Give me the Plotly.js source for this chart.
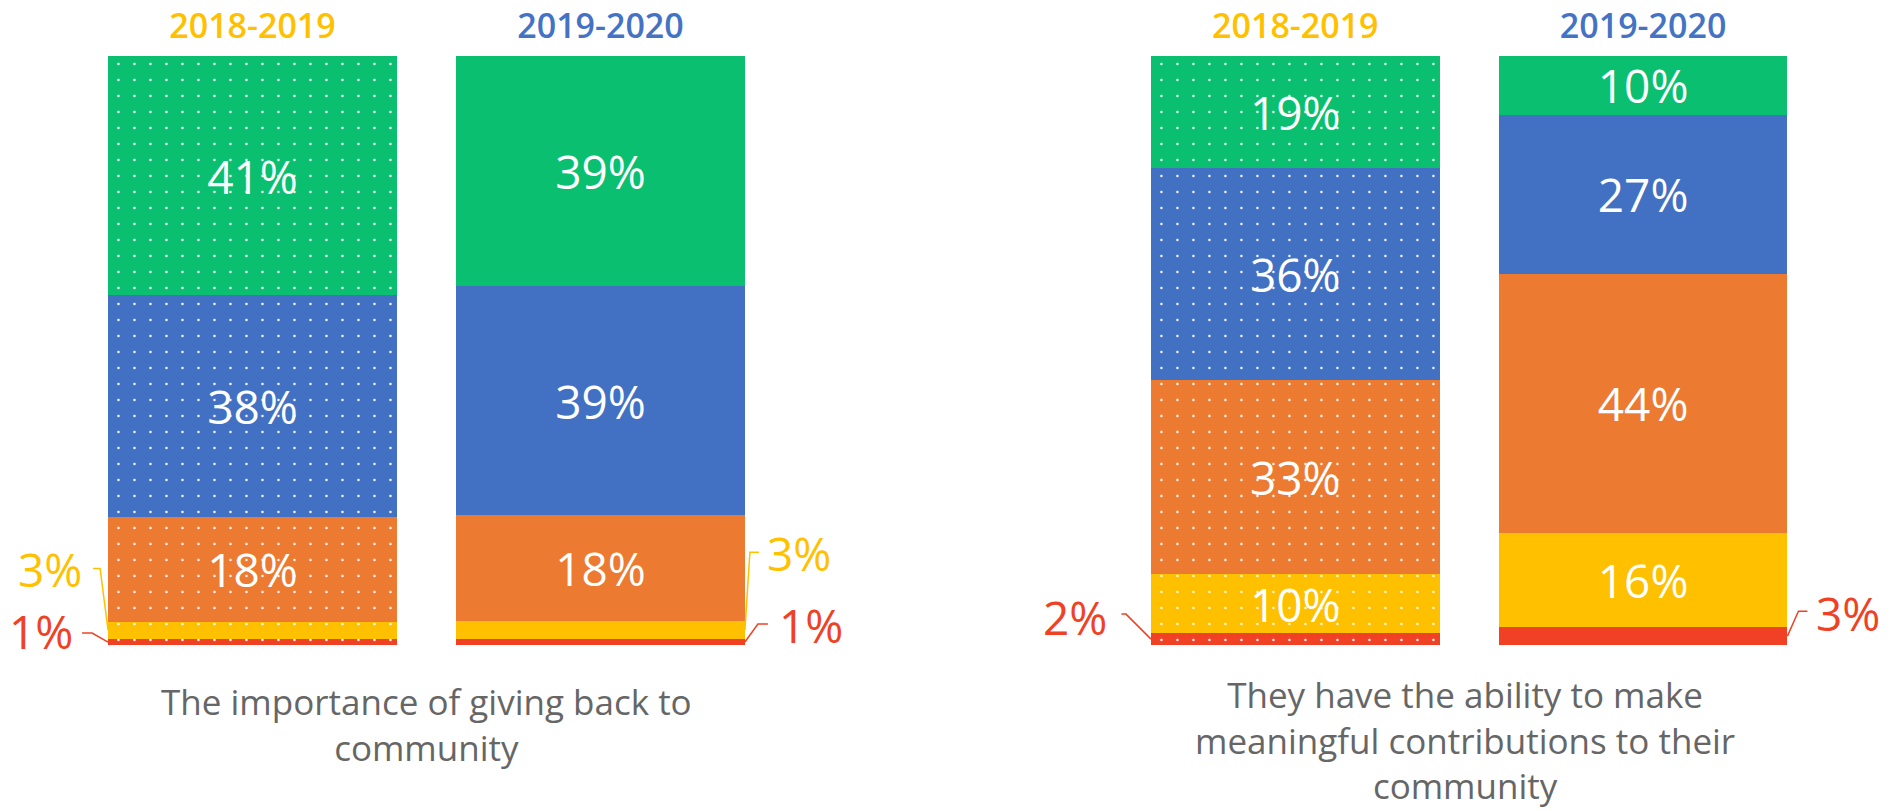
<!DOCTYPE html>
<html>
<head>
<meta charset="utf-8">
<script src="https://cdn.plot.ly/plotly-3.0.1.min.js"></script>
<style>html,body{margin:0;padding:0;background:#fff;}#chart{width:1902px;height:811px;}</style>
</head>
<body>
<div id="chart"></div>
<script>
// ---- data ----
const years = ['2018-2019', '2019-2020'];
const yearColors = ['#FFC000', '#4472C4'];
const yearPatterns = ['.', ''];
const levelNames = ['Level 1', 'Level 2', 'Level 3', 'Level 4', 'Level 5'];
const levelColors = ['#F04124', '#FFC000', '#EC7A31', '#4270C2', '#0ABF6F'];

const giving_red    = [1, 1];
const giving_yellow = [3, 3];
const giving_orange = [18, 18];
const giving_blue   = [38, 39];
const giving_green  = [41, 39];

const ability_red    = [2, 3];
const ability_yellow = [10, 16];
const ability_orange = [33, 44];
const ability_blue   = [36, 27];
const ability_green  = [19, 10];

const panelTitles = [
  'The importance of giving back to<br>community',
  'They have the ability to make<br>meaningful contributions to their<br>community'
];

// ---- build ----
const panels = [
  {xa: 'x', ya: 'y', series: [giving_red, giving_yellow, giving_orange, giving_blue, giving_green]},
  {xa: 'x2', ya: 'y2', series: [ability_red, ability_yellow, ability_orange, ability_blue, ability_green]}
];
const BW = 0.83;
const FONT = 'Open Sans, Noto Sans, sans-serif';

const traces = [];
panels.forEach(function (p) {
  p.series.forEach(function (vals, li) {
    years.forEach(function (yr, yi) {
      const v = vals[yi];
      const marker = {color: levelColors[li], line: {width: 0}};
      if (yearPatterns[yi]) {
        marker.pattern = {shape: yearPatterns[yi], fgcolor: '#ffffff', bgcolor: levelColors[li], size: 16, solidity: 0.018};
      }
      traces.push({
        type: 'bar', x: [yr], y: [v], name: levelNames[li],
        xaxis: p.xa, yaxis: p.ya, width: BW, showlegend: false,
        marker: marker,
        text: [v >= 5 ? v + '%' : ''],
        textposition: 'inside', insidetextanchor: 'middle', constraintext: 'none',
        textfont: {family: FONT, size: 46, color: '#ffffff'},
        hoverinfo: 'skip'
      });
    });
  });
});

// callout styling (offsets in pixels from the segment edge)
const callouts = [
  {panel: 0, cat: 0, level: 1, path: 'M0,0 L-8,62 L-15,62', tx: -24, ty: 61},
  {panel: 0, cat: 0, level: 0, path: 'M0,0 L-16,9 L-26,9', tx: -33, ty: 11},
  {panel: 0, cat: 1, level: 1, path: 'M0,0 L5,78 L14,78', tx: 20, ty: 77},
  {panel: 0, cat: 1, level: 0, path: 'M0,0 L13,18 L23,18', tx: 32, ty: 17},
  {panel: 1, cat: 0, level: 0, path: 'M0,0 L-25,25 L-35,25', tx: -42, ty: 22},
  {panel: 1, cat: 1, level: 0, path: 'M0,0 L11,25 L20,25', tx: 27, ty: 23}
];

const shapes = [];
const annotations = [];
callouts.forEach(function (c) {
  const p = panels[c.panel];
  const col = p.series.map(function (s) { return s[c.cat]; });
  const total = col.reduce(function (a, b) { return a + b; }, 0);
  let base = 0;
  for (let i = 0; i < c.level; i++) base += col[i] * 100 / total;
  const ymid = base + col[c.level] * 100 / total / 2;
  const xEdge = c.cat + (c.cat === 0 ? -BW / 2 : BW / 2);
  shapes.push({
    type: 'path', xref: p.xa, yref: p.ya, xsizemode: 'pixel', ysizemode: 'pixel',
    xanchor: xEdge, yanchor: ymid, path: c.path,
    line: {color: levelColors[c.level], width: 1.5}
  });
  annotations.push({
    xref: p.xa, yref: p.ya, x: xEdge, y: ymid, showarrow: false,
    xanchor: c.cat === 0 ? 'right' : 'left', yanchor: 'middle',
    xshift: c.tx, yshift: c.ty,
    text: col[c.level] + '%',
    font: {family: FONT, size: 46, color: levelColors[c.level]}
  });
});

// panel titles below the bars
const titleTops = [676, 669];
const H = 811;
panelTitles.forEach(function (t, i) {
  annotations.push({
    xref: panels[i].xa, yref: 'paper', x: 0.5, y: (H - titleTops[i]) / H,
    yanchor: 'top', xanchor: 'center',
    xshift: i === 1 ? -4 : 0,
    showarrow: false, text: t, align: 'center',
    font: {family: FONT, size: 35, color: '#666666'}
  });
});

const tickText = years.map(function (y, i) {
  return '<span style="color:' + yearColors[i] + '">' + y + '</span>';
});

function xax(domain, anchor) {
  return {
    domain: domain, anchor: anchor, side: 'top', type: 'category',
    range: [-0.5, 1.5], fixedrange: true,
    showgrid: false, zeroline: false, showline: false, ticks: '',
    tickmode: 'array', tickvals: years, ticktext: tickText, ticklabelstandoff: 10,
    tickfont: {family: FONT, size: 34, weight: 600}
  };
}
function yax(anchor) {
  return {
    domain: [0.2047, 0.931], anchor: anchor, range: [0, 100], fixedrange: true,
    showgrid: false, zeroline: false, showline: false, showticklabels: false, ticks: ''
  };
}

const layout = {
  width: 1902, height: 811,
  margin: {l: 0, r: 0, t: 0, b: 0},
  paper_bgcolor: '#ffffff', plot_bgcolor: '#ffffff',
  barmode: 'stack', barnorm: 'percent',
  font: {family: FONT},
  xaxis: xax([0.04127, 0.4072], 'y'),
  yaxis: yax('x'),
  xaxis2: xax([0.5896, 0.9553], 'y2'),
  yaxis2: yax('x2'),
  shapes: shapes,
  annotations: annotations
};

Plotly.newPlot('chart', traces, layout, {displayModeBar: false, staticPlot: true});
</script>
</body>
</html>
